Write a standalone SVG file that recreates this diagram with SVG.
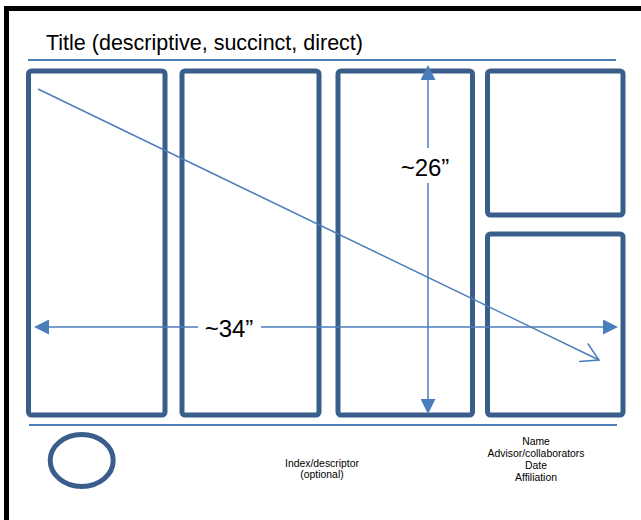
<svg xmlns="http://www.w3.org/2000/svg" width="641" height="520" viewBox="0 0 641 520">
<style>
.panel{fill:none;stroke:#3a5e8c;stroke-width:5}
.rule{stroke:#4a7ebb;stroke-width:2;fill:none}
.conn{stroke:#4a7ebb;stroke-width:1.5;fill:none}
.t{font-family:"Liberation Sans",Arial,sans-serif;fill:#000}
.small{font-size:10.4px;text-anchor:middle}
.dim{font-size:24px;text-anchor:middle}
</style>
<defs>
<marker id="tri" markerUnits="userSpaceOnUse" viewBox="0 0 15 15" markerWidth="15" markerHeight="15" refX="0" refY="7.5" orient="auto-start-reverse">
<path d="M0,0 L15,7.5 L0,15 z" fill="#4a7ebb"/>
</marker>
<marker id="open" markerUnits="userSpaceOnUse" viewBox="-20 -12 22 24" markerWidth="22" markerHeight="24" refX="0" refY="0" orient="auto" overflow="visible">
<path d="M-17.3,-10 L0,0 L-17.3,10" fill="none" stroke="#4a7ebb" stroke-width="1.5"/>
</marker>
</defs>
<rect width="641" height="520" fill="#fff"/>
<rect x="6.5" y="8.5" width="700" height="600" fill="none" stroke="#000" stroke-width="5"/>
<g id="title">
<text class="t" x="46" y="50" font-size="22" textLength="317" lengthAdjust="spacingAndGlyphs">Title (descriptive, succinct, direct)</text>
<line class="rule" x1="28" y1="60" x2="616" y2="60"/>
</g>
<g id="panel1"><rect class="panel" x="28.5" y="71" width="136.5" height="344" rx="3"/></g>
<g id="panel2"><rect class="panel" x="182" y="71" width="137" height="344" rx="3"/></g>
<g id="panel3"><rect class="panel" x="338" y="71" width="134.5" height="344" rx="3"/></g>
<g id="panel4"><rect class="panel" x="487.5" y="71" width="135.5" height="144" rx="3"/></g>
<g id="panel5"><rect class="panel" x="487.5" y="234" width="135.5" height="181" rx="3"/></g>
<g id="footer">
<line class="rule" x1="29" y1="425" x2="617" y2="425"/>
<ellipse cx="81.7" cy="460.5" rx="31.5" ry="26" fill="none" stroke="#3a5e8c" stroke-width="5"/>
<text class="t small" x="322" y="466.5">Index/descriptor</text>
<text class="t small" x="322" y="478">(optional)</text>
<text class="t small" x="536" y="444.5">Name</text>
<text class="t small" x="536" y="456.5">Advisor/collaborators</text>
<text class="t small" x="536" y="468.5">Date</text>
<text class="t small" x="536" y="480.5">Affiliation</text>
</g>
<g id="connectors">
<path class="conn" d="M428,80 V148 M428,183 V399" marker-start="url(#tri)" marker-end="url(#tri)"/>
<path class="conn" d="M49,327 H198 M261,327 H603" marker-start="url(#tri)" marker-end="url(#tri)"/>
<path class="conn" d="M38,89 L599,360" marker-end="url(#open)"/>
</g>
<g id="labels">
<text class="t dim" x="425" y="176">~26”</text>
<text class="t dim" x="229" y="337">~34”</text>
</g>
</svg>
